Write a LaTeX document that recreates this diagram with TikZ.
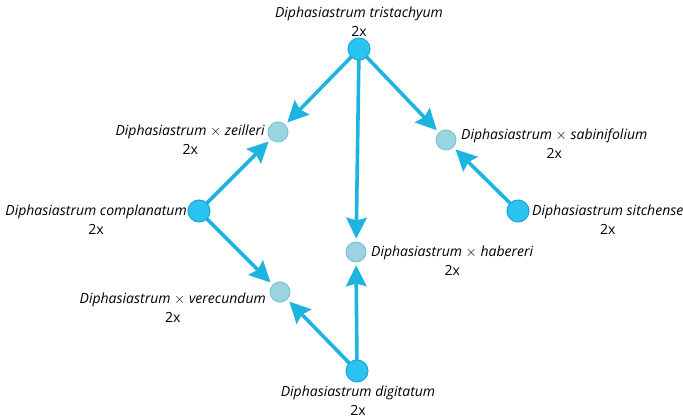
\documentclass[tikz,border=0pt]{standalone}
\usepackage{fontspec}
\setmainfont{Open Sans}
\usetikzlibrary{arrows.meta}
\definecolor{parentfill}{HTML}{2BC3EF}
\definecolor{parentdraw}{HTML}{1BA6D6}
\definecolor{childfill}{HTML}{9AD4E2}
\definecolor{childdraw}{HTML}{80C2D2}
\definecolor{arrowcol}{HTML}{1DB4E2}
\begin{document}
\begin{tikzpicture}[x=1pt,y=-1pt,
  parent/.style={circle,fill=parentfill,draw=parentdraw,line width=1pt,minimum size=22pt,inner sep=0pt},
  child/.style={circle,fill=childfill,draw=childdraw,line width=1pt,minimum size=20pt,inner sep=0pt},
  lab/.style={align=center,inner sep=0pt,font=\fontsize{14}{19}\selectfont\itshape},
  cross/.style={draw=arrowcol,line width=3.6pt,
    -{Stealth[length=21pt,width=21pt,inset=3pt,line width=0.6pt,fill=arrowcol,color=arrowcol]},shorten >=3pt}]
\useasboundingbox (0,0) rectangle (683,419);
% nodes
\node[child] (zei) at (278,132) {};
\node[child] (sab) at (446,140) {};
\node[child] (hab) at (356,252) {};
\node[child] (ver) at (280,292) {};
% arrows (behind parents)
\coordinate (Tc) at (359,49);
\coordinate (Cc) at (199,211);
\coordinate (Sc) at (518,211);
\coordinate (Dc) at (357,371);
\draw[cross] (Tc) -- (zei);
\draw[cross] (Tc) -- (sab);
\draw[cross] (Tc) -- (hab);
\draw[cross] (Cc) -- (zei);
\draw[cross] (Cc) -- (ver);
\draw[cross] (Sc) -- (sab);
\draw[cross] (Dc) -- (hab);
\draw[cross] (Dc) -- (ver);
\node[parent] (tri) at (Tc) {};
\node[parent] (com) at (Cc) {};
\node[parent] (sit) at (Sc) {};
\node[parent] (dig) at (Dc) {};
% labels
\node[lab] (ltri) at (359,22) {Diphasiastrum tristachyum\\\upshape 2x};
\node[lab,anchor=east] (lzei) at (265,140) {Diphasiastrum $\times$ zeilleri\\\upshape 2x};
\node[lab,anchor=west] (lsab) at (461,144) {Diphasiastrum $\times$ sabinifolium\\\upshape 2x};
\node[lab,anchor=east] (lcom) at (187,220) {Diphasiastrum complanatum\\\upshape 2x};
\node[lab,anchor=west] (lsit) at (532,220) {Diphasiastrum sitchense\\\upshape 2x};
\node[lab,anchor=west] (lhab) at (371,261) {Diphasiastrum $\times$ habereri\\\upshape 2x};
\node[lab,anchor=east] (lver) at (266,308) {Diphasiastrum $\times$ verecundum\\\upshape 2x};
\node[lab] (ldig) at (358,401) {Diphasiastrum digitatum\\\upshape 2x};
\end{tikzpicture}
\end{document}
